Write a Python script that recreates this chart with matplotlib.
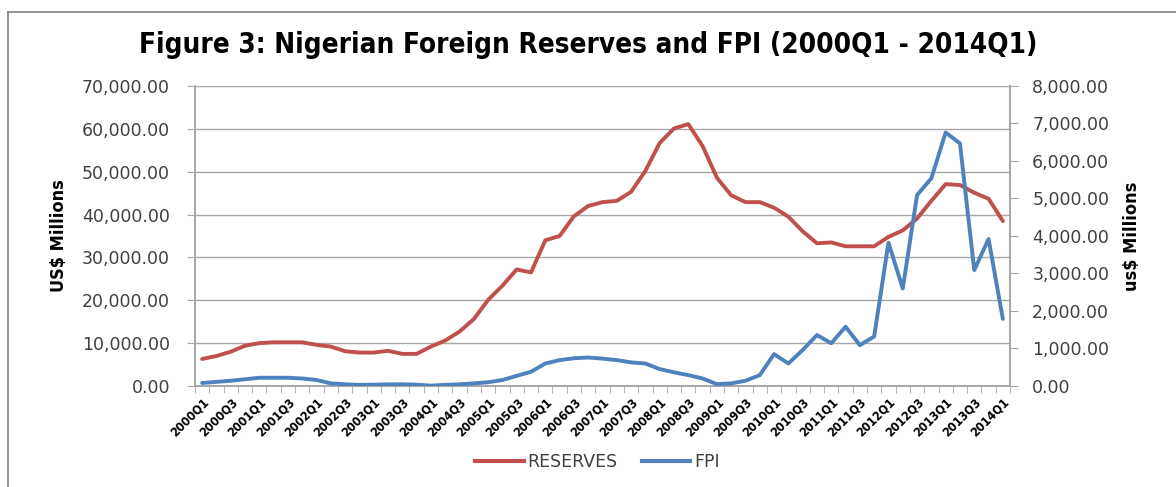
import numpy as np
import matplotlib
matplotlib.use("Agg")
import matplotlib.pyplot as plt
from matplotlib.ticker import FuncFormatter, MultipleLocator
from matplotlib.lines import Line2D

# quarters 2000Q1 .. 2014Q1
quarters = [f"{y}Q{q}" for y in range(2000, 2015) for q in range(1, 5)][:57]

reserves = [6300, 7000, 8000, 9400, 10000, 10200, 10200, 10200, 9600, 9200,
            8100, 7800, 7800, 8200, 7500, 7500, 9200, 10600, 12700, 15600,
            20100, 23400, 27200, 26500, 34000, 35000, 39600, 42000, 42900, 43200,
            45300, 50200, 56700, 60100, 61100, 56000, 48600, 44500, 42900, 42900,
            41600, 39500, 36100, 33300, 33500, 32600, 32600, 32600, 34800, 36300,
            39100, 43200, 47100, 46900, 45100, 43700, 38500]

fpi = [80, 110, 140, 180, 220, 220, 220, 200, 160, 70,
       45, 30, 35, 45, 45, 35, 10, 30, 45, 70,
       100, 160, 270, 380, 600, 690, 740, 760, 730, 690,
       630, 600, 450, 365, 290, 200, 50, 70, 140, 290,
       850, 600, 960, 1360, 1140, 1580, 1090, 1320, 3820, 2600,
       5090, 5540, 6760, 6470, 3090, 3920, 1790]

red = "#C0504D"
blue = "#4F81BD"
txt = "#404040"
grid = "#A6A6A6"

plt.rcParams['font.family'] = ['DejaVu Sans']

fig = plt.figure(figsize=(11.76, 4.87), dpi=100)
ax = fig.add_axes([195/1176, 1-386/487, (1010-195)/1176, 300/487])
ax2 = ax.twinx()

x = np.arange(len(quarters))
ax.plot(x, reserves, color=red, lw=2.8, solid_capstyle='round', zorder=3)
ax2.plot(x, fpi, color=blue, lw=2.8, solid_capstyle='round', zorder=3)

ax.set_xlim(-0.5, len(quarters) - 0.5)
ax.set_ylim(0, 70000)
ax2.set_ylim(0, 8000)
ax.yaxis.set_major_locator(MultipleLocator(10000))
ax2.yaxis.set_major_locator(MultipleLocator(1000))
fmt = FuncFormatter(lambda v, p: f"{v:,.2f}")
ax.yaxis.set_major_formatter(fmt)
ax2.yaxis.set_major_formatter(fmt)
ax.grid(axis='y', color=grid, lw=1.0)
ax.set_axisbelow(True)

ax.set_xticks(x[::2])
ax.set_xticklabels(quarters[::2], rotation=45, ha='right', rotation_mode='anchor',
                   fontsize=9, fontweight='bold', color='black', fontstretch='condensed')
ax.set_xticks(np.arange(-0.5, len(quarters)), minor=True)
ax.tick_params(axis='x', which='major', length=0, pad=7)
ax.tick_params(axis='x', which='minor', length=5, color=grid)
ax.tick_params(axis='y', length=6, color=grid, labelsize=12.5, labelcolor=txt, pad=12)
ax2.tick_params(axis='y', length=6, color=grid, labelsize=12.5, labelcolor=txt, pad=10)

for a in (ax, ax2):
    a.spines['top'].set_visible(False)
    for s in ('left', 'right', 'bottom'):
        a.spines[s].set_color(grid)
        a.spines[s].set_linewidth(1.2)

ax.set_ylabel("US$ Millions", fontsize=13, fontweight='bold', labelpad=10,
              fontstretch='condensed', color='black')
ax2.set_ylabel("us$ Millions", fontsize=13, fontweight='bold', labelpad=10,
               fontstretch='condensed', color='black')

fig.text(0.5, 1-45/487, "Figure 3: Nigerian Foreign Reserves and FPI (2000Q1 - 2014Q1)",
         ha='center', va='center', fontsize=20, fontweight='bold',
         fontstretch='condensed')

handles = [Line2D([], [], color=red, lw=3), Line2D([], [], color=blue, lw=3)]
fig.legend(handles, ["RESERVES", "FPI"], loc='center', bbox_to_anchor=(0.508, 1-462/487),
           ncol=2, frameon=False, fontsize=12.5, handlelength=2.8, handletextpad=0.2,
           columnspacing=1.4, labelcolor=txt)

# outer chart border
fig.add_artist(Line2D([8/1176, 8/1176], [0, 1-12/487], color='#808080', lw=1.2,
                      transform=fig.transFigure))
fig.add_artist(Line2D([8/1176, 1], [1-12/487, 1-12/487], color='#808080', lw=1.2,
                      transform=fig.transFigure))

fig.savefig("out.png", dpi=100)
